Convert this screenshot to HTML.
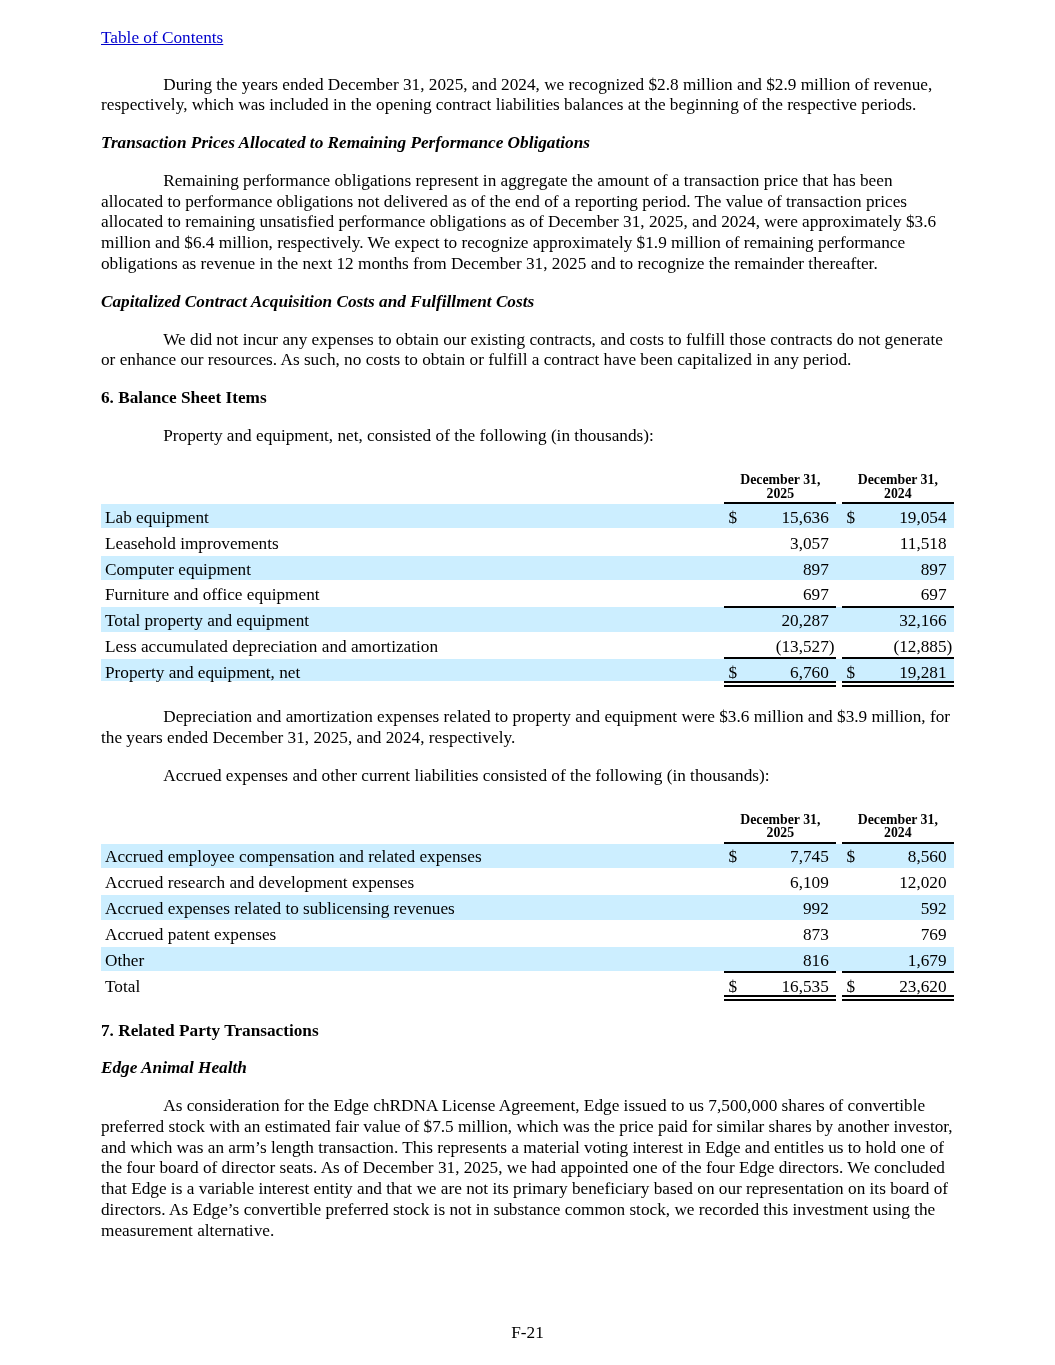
<!DOCTYPE html>
<html><head><meta charset="utf-8"><title>F-21</title>
<style>
html,body{margin:0;padding:0;background:#fff;}
body{width:1055px;height:1365px;position:relative;overflow:hidden;}
.t,.h{position:absolute;white-space:nowrap;font-family:"Liberation Serif",serif;color:#000;}
.t{font-size:17.24px;line-height:20.687px;}
.h{font-size:13.79px;line-height:14px;font-weight:bold;text-align:center;}
.b{position:absolute;}
.bi{font-weight:bold;font-style:italic;}
.t.b{font-weight:bold;}
.lnk{color:#0000cc;text-decoration:underline;}
</style></head><body>
<div id="pg" style="position:absolute;left:0;top:0;width:1055px;height:1365px;will-change:transform;filter:blur(0.3px)">
<div class="t lnk" style="left:101.00px;top:27.80px">Table of Contents</div>
<div class="t" style="left:163.20px;top:74.60px;">During the years ended December 31, 2025, and 2024, we recognized $2.8 million and $2.9 million of revenue,</div>
<div class="t" style="left:101.00px;top:95.29px;">respectively, which was included in the opening contract liabilities balances at the beginning of the respective periods.</div>
<div class="t bi" style="left:101.00px;top:133.00px;">Transaction Prices Allocated to Remaining Performance Obligations</div>
<div class="t" style="left:163.20px;top:170.95px;">Remaining performance obligations represent in aggregate the amount of a transaction price that has been</div>
<div class="t" style="left:101.00px;top:191.64px;">allocated to performance obligations not delivered as of the end of a reporting period. The value of transaction prices</div>
<div class="t" style="left:101.00px;top:212.32px;">allocated to remaining unsatisfied performance obligations as of December 31, 2025, and 2024, were approximately $3.6</div>
<div class="t" style="left:101.00px;top:233.01px;">million and $6.4 million, respectively. We expect to recognize approximately $1.9 million of remaining performance</div>
<div class="t" style="left:101.00px;top:253.70px;">obligations as revenue in the next 12 months from December 31, 2025 and to recognize the remainder thereafter.</div>
<div class="t bi" style="left:101.00px;top:291.63px;">Capitalized Contract Acquisition Costs and Fulfillment Costs</div>
<div class="t" style="left:163.20px;top:329.56px;">We did not incur any expenses to obtain our existing contracts, and costs to fulfill those contracts do not generate</div>
<div class="t" style="left:101.00px;top:350.25px;">or enhance our resources. As such, no costs to obtain or fulfill a contract have been capitalized in any period.</div>
<div class="t b" style="left:101.00px;top:388.10px;">6. Balance Sheet Items</div>
<div class="t" style="left:163.20px;top:426.00px;">Property and equipment, net, consisted of the following (in thousands):</div>
<div class="h" style="left:680.35px;width:200px;top:472.60px">December 31,</div>
<div class="h" style="left:680.35px;width:200px;top:486.60px">2025</div>
<div class="h" style="left:797.80px;width:200px;top:472.60px">December 31,</div>
<div class="h" style="left:797.80px;width:200px;top:486.60px">2024</div>
<div class="b" style="left:101.00px;top:503.90px;width:853.00px;height:24.50px;background:#cceeff"></div>
<div class="b" style="left:101.00px;top:555.62px;width:853.00px;height:24.50px;background:#cceeff"></div>
<div class="b" style="left:101.00px;top:607.34px;width:853.00px;height:24.50px;background:#cceeff"></div>
<div class="b" style="left:101.00px;top:659.06px;width:853.00px;height:22.20px;background:#cceeff"></div>
<div class="b" style="left:724.20px;top:502.00px;width:112.30px;height:2.00px;background:#000"></div>
<div class="b" style="left:841.60px;top:502.00px;width:112.40px;height:2.00px;background:#000"></div>
<div class="b" style="left:724.20px;top:606.00px;width:112.30px;height:2.00px;background:#000"></div>
<div class="b" style="left:841.60px;top:606.00px;width:112.40px;height:2.00px;background:#000"></div>
<div class="b" style="left:724.20px;top:657.00px;width:112.30px;height:2.00px;background:#000"></div>
<div class="b" style="left:841.60px;top:657.00px;width:112.40px;height:2.00px;background:#000"></div>
<div class="b" style="left:724.20px;top:681.00px;width:112.30px;height:2.00px;background:#000"></div>
<div class="b" style="left:841.60px;top:681.00px;width:112.40px;height:2.00px;background:#000"></div>
<div class="b" style="left:724.20px;top:685.00px;width:112.30px;height:2.00px;background:#000"></div>
<div class="b" style="left:841.60px;top:685.00px;width:112.40px;height:2.00px;background:#000"></div>
<div class="t" style="left:105.00px;top:507.90px;">Lab equipment</div>
<div class="t" style="left:728.60px;top:507.90px;">$</div>
<div class="t" style="left:846.40px;top:507.90px;">$</div>
<div class="t r" style="right:226.20px;top:507.90px;">15,636</div>
<div class="t r" style="right:108.40px;top:507.90px;">19,054</div>
<div class="t" style="left:105.00px;top:533.76px;">Leasehold improvements</div>
<div class="t r" style="right:226.20px;top:533.76px;">3,057</div>
<div class="t r" style="right:108.40px;top:533.76px;">11,518</div>
<div class="t" style="left:105.00px;top:559.62px;">Computer equipment</div>
<div class="t r" style="right:226.20px;top:559.62px;">897</div>
<div class="t r" style="right:108.40px;top:559.62px;">897</div>
<div class="t" style="left:105.00px;top:585.48px;">Furniture and office equipment</div>
<div class="t r" style="right:226.20px;top:585.48px;">697</div>
<div class="t r" style="right:108.40px;top:585.48px;">697</div>
<div class="t" style="left:105.00px;top:611.34px;">Total property and equipment</div>
<div class="t r" style="right:226.20px;top:611.34px;">20,287</div>
<div class="t r" style="right:108.40px;top:611.34px;">32,166</div>
<div class="t" style="left:105.00px;top:637.20px;">Less accumulated depreciation and amortization</div>
<div class="t r" style="right:226.20px;top:637.20px;">(13,527</div>
<div class="t" style="left:828.80px;top:637.20px;">)</div>
<div class="t r" style="right:108.40px;top:637.20px;">(12,885</div>
<div class="t" style="left:946.60px;top:637.20px;">)</div>
<div class="t" style="left:105.00px;top:663.06px;">Property and equipment, net</div>
<div class="t" style="left:728.60px;top:663.06px;">$</div>
<div class="t" style="left:846.40px;top:663.06px;">$</div>
<div class="t r" style="right:226.20px;top:663.06px;">6,760</div>
<div class="t r" style="right:108.40px;top:663.06px;">19,281</div>
<div class="t" style="left:163.20px;top:707.10px;">Depreciation and amortization expenses related to property and equipment were $3.6 million and $3.9 million, for</div>
<div class="t" style="left:101.00px;top:727.79px;">the years ended December 31, 2025, and 2024, respectively.</div>
<div class="t" style="left:163.20px;top:765.70px;">Accrued expenses and other current liabilities consisted of the following (in thousands):</div>
<div class="h" style="left:680.35px;width:200px;top:812.90px">December 31,</div>
<div class="h" style="left:680.35px;width:200px;top:826.20px">2025</div>
<div class="h" style="left:797.80px;width:200px;top:812.90px">December 31,</div>
<div class="h" style="left:797.80px;width:200px;top:826.20px">2024</div>
<div class="b" style="left:101.00px;top:843.50px;width:853.00px;height:24.50px;background:#cceeff"></div>
<div class="b" style="left:101.00px;top:895.22px;width:853.00px;height:24.50px;background:#cceeff"></div>
<div class="b" style="left:101.00px;top:946.94px;width:853.00px;height:24.50px;background:#cceeff"></div>
<div class="b" style="left:724.20px;top:842.00px;width:112.30px;height:2.00px;background:#000"></div>
<div class="b" style="left:841.60px;top:842.00px;width:112.40px;height:2.00px;background:#000"></div>
<div class="b" style="left:724.20px;top:971.00px;width:112.30px;height:2.00px;background:#000"></div>
<div class="b" style="left:841.60px;top:971.00px;width:112.40px;height:2.00px;background:#000"></div>
<div class="b" style="left:724.20px;top:995.00px;width:112.30px;height:2.00px;background:#000"></div>
<div class="b" style="left:841.60px;top:995.00px;width:112.40px;height:2.00px;background:#000"></div>
<div class="b" style="left:724.20px;top:999.00px;width:112.30px;height:2.00px;background:#000"></div>
<div class="b" style="left:841.60px;top:999.00px;width:112.40px;height:2.00px;background:#000"></div>
<div class="t" style="left:105.00px;top:847.40px;">Accrued employee compensation and related expenses</div>
<div class="t" style="left:728.60px;top:847.40px;">$</div>
<div class="t" style="left:846.40px;top:847.40px;">$</div>
<div class="t r" style="right:226.20px;top:847.40px;">7,745</div>
<div class="t r" style="right:108.40px;top:847.40px;">8,560</div>
<div class="t" style="left:105.00px;top:873.26px;">Accrued research and development expenses</div>
<div class="t r" style="right:226.20px;top:873.26px;">6,109</div>
<div class="t r" style="right:108.40px;top:873.26px;">12,020</div>
<div class="t" style="left:105.00px;top:899.12px;">Accrued expenses related to sublicensing revenues</div>
<div class="t r" style="right:226.20px;top:899.12px;">992</div>
<div class="t r" style="right:108.40px;top:899.12px;">592</div>
<div class="t" style="left:105.00px;top:924.98px;">Accrued patent expenses</div>
<div class="t r" style="right:226.20px;top:924.98px;">873</div>
<div class="t r" style="right:108.40px;top:924.98px;">769</div>
<div class="t" style="left:105.00px;top:950.84px;">Other</div>
<div class="t r" style="right:226.20px;top:950.84px;">816</div>
<div class="t r" style="right:108.40px;top:950.84px;">1,679</div>
<div class="t" style="left:105.00px;top:976.70px;">Total</div>
<div class="t" style="left:728.60px;top:976.70px;">$</div>
<div class="t" style="left:846.40px;top:976.70px;">$</div>
<div class="t r" style="right:226.20px;top:976.70px;">16,535</div>
<div class="t r" style="right:108.40px;top:976.70px;">23,620</div>
<div class="t b" style="left:101.00px;top:1020.60px;">7. Related Party Transactions</div>
<div class="t bi" style="left:101.00px;top:1058.20px;">Edge Animal Health</div>
<div class="t" style="left:163.20px;top:1096.40px;">As consideration for the Edge chRDNA License Agreement, Edge issued to us 7,500,000 shares of convertible</div>
<div class="t" style="left:101.00px;top:1117.09px;">preferred stock with an estimated fair value of $7.5 million, which was the price paid for similar shares by another investor,</div>
<div class="t" style="left:101.00px;top:1137.77px;">and which was an arm’s length transaction. This represents a material voting interest in Edge and entitles us to hold one of</div>
<div class="t" style="left:101.00px;top:1158.46px;">the four board of director seats. As of December 31, 2025, we had appointed one of the four Edge directors. We concluded</div>
<div class="t" style="left:101.00px;top:1179.15px;">that Edge is a variable interest entity and that we are not its primary beneficiary based on our representation on its board of</div>
<div class="t" style="left:101.00px;top:1199.84px;">directors. As Edge’s convertible preferred stock is not in substance common stock, we recorded this investment using the</div>
<div class="t" style="left:101.00px;top:1220.52px;">measurement alternative.</div>
<div class="t" style="left:0;width:1055px;text-align:center;top:1322.70px">F-21</div>
</div>
</body></html>
